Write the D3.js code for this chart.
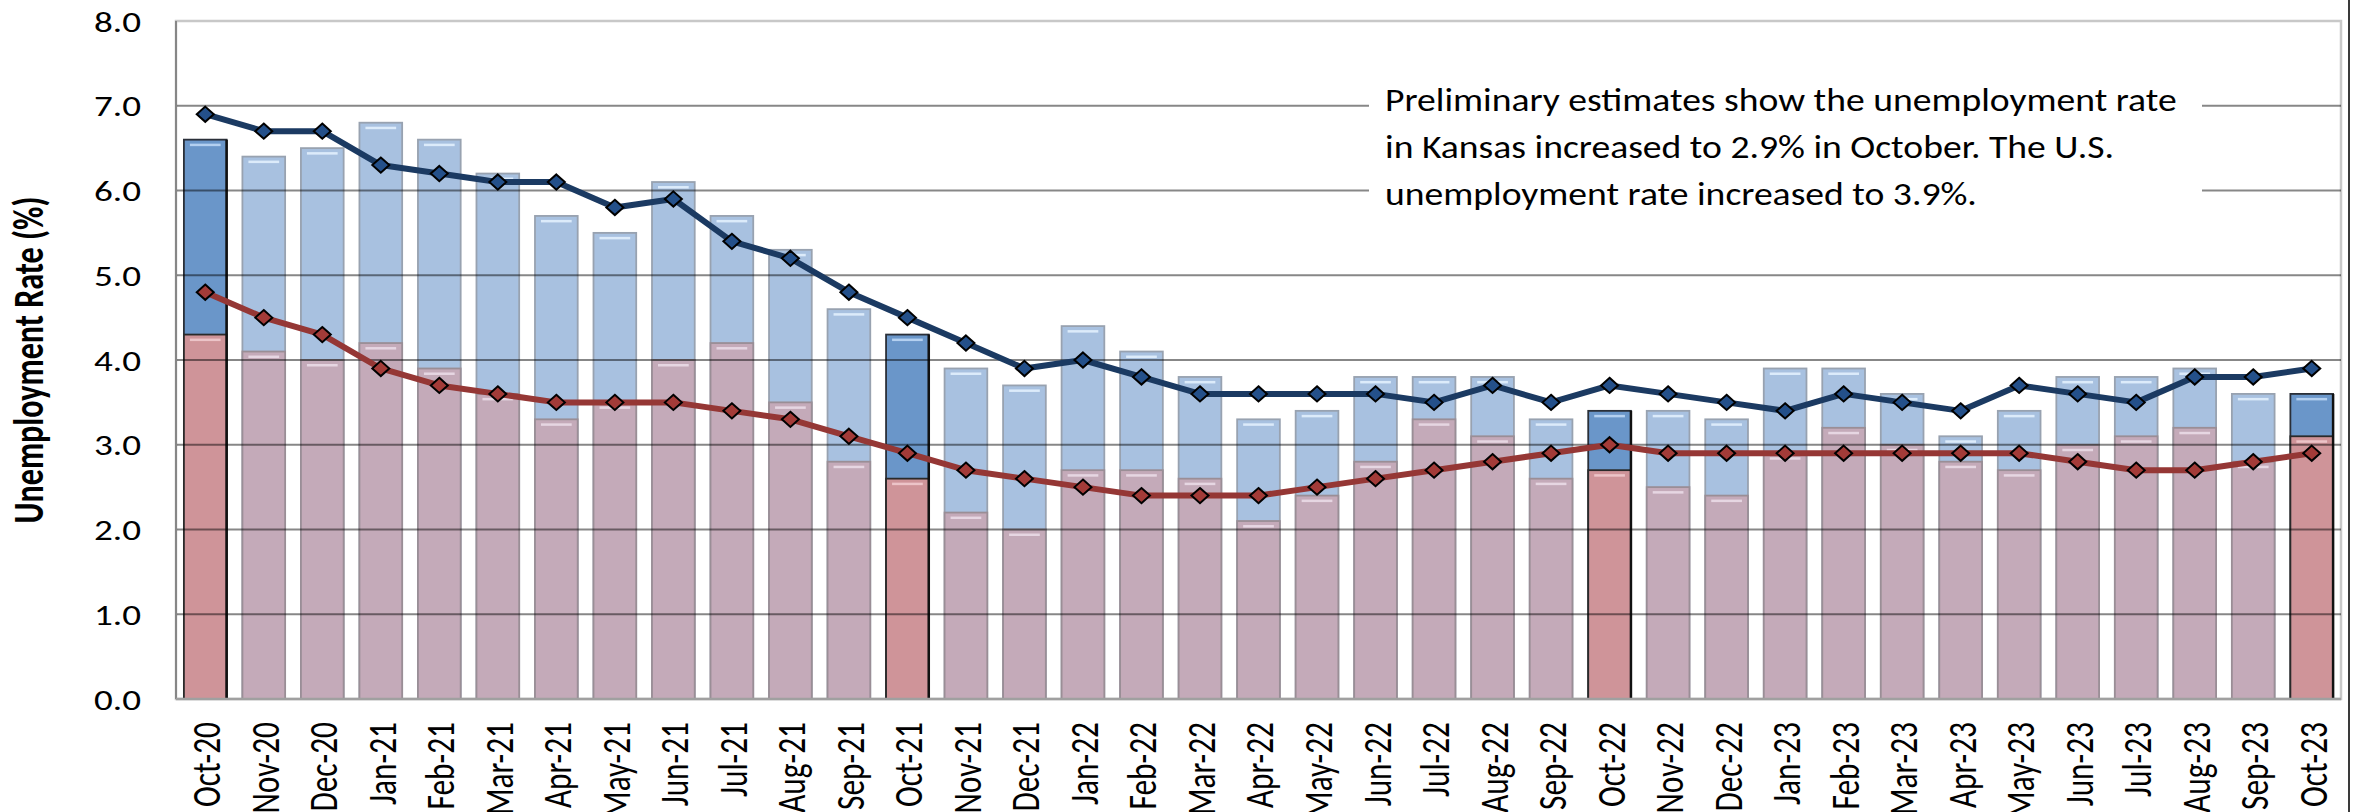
<!DOCTYPE html>
<html>
<head>
<meta charset="utf-8">
<script src="https://cdn.jsdelivr.net/npm/d3@7"></script>
<style>
  html, body { margin: 0; padding: 0; background: #fff; }
  svg { display: block; }
</style>
</head>
<body>
<script>
// ---------------- data ----------------
const months = ["Oct-20","Nov-20","Dec-20","Jan-21","Feb-21","Mar-21","Apr-21","May-21","Jun-21","Jul-21","Aug-21","Sep-21",
  "Oct-21","Nov-21","Dec-21","Jan-22","Feb-22","Mar-22","Apr-22","May-22","Jun-22","Jul-22","Aug-22","Sep-22",
  "Oct-22","Nov-22","Dec-22","Jan-23","Feb-23","Mar-23","Apr-23","May-23","Jun-23","Jul-23","Aug-23","Sep-23","Oct-23"];
// U.S. not seasonally adjusted (blue bars)
const usBars = [6.6,6.4,6.5,6.8,6.6,6.2,5.7,5.5,6.1,5.7,5.3,4.6,
  4.3,3.9,3.7,4.4,4.1,3.8,3.3,3.4,3.8,3.8,3.8,3.3,
  3.4,3.4,3.3,3.9,3.9,3.6,3.1,3.4,3.8,3.8,3.9,3.6,3.6];
// Kansas not seasonally adjusted (pink bars)
const ksBars = [4.3,4.1,4.0,4.2,3.9,3.6,3.3,3.5,4.0,4.2,3.5,2.8,
  2.6,2.2,2.0,2.7,2.7,2.6,2.1,2.4,2.8,3.3,3.1,2.6,
  2.7,2.5,2.4,2.9,3.2,3.0,2.8,2.7,3.0,3.1,3.2,2.8,3.1];
// U.S. seasonally adjusted (navy line)
const usLine = [6.9,6.7,6.7,6.3,6.2,6.1,6.1,5.8,5.9,5.4,5.2,4.8,
  4.5,4.2,3.9,4.0,3.8,3.6,3.6,3.6,3.6,3.5,3.7,3.5,
  3.7,3.6,3.5,3.4,3.6,3.5,3.4,3.7,3.6,3.5,3.8,3.8,3.9];
// Kansas seasonally adjusted (red line)
const ksLine = [4.8,4.5,4.3,3.9,3.7,3.6,3.5,3.5,3.5,3.4,3.3,3.1,
  2.9,2.7,2.6,2.5,2.4,2.4,2.4,2.5,2.6,2.7,2.8,2.9,
  3.0,2.9,2.9,2.9,2.9,2.9,2.9,2.9,2.8,2.7,2.7,2.8,2.9];
const yTicks = [0,1,2,3,4,5,6,7,8];
const yTitle = "Unemployment Rate (%)";
const noteLines = ["Preliminary estimates show the unemployment rate",
  "in Kansas increased to 2.9% in October. The U.S.",
  "unemployment rate increased to 3.9%."];

// ---------------- layout ----------------
const W = 2356, H = 812;
const plot = {left: 176, right: 2341, top: 21, bottom: 699};
const FONT = "Carlito, Calibri, Lato, 'Open Sans', sans-serif";

const svg = d3.select("body").append("svg").attr("width", W).attr("height", H)
  .style("font-family", FONT);

function measure(str, size, weight) {
  const t = svg.append("text").attr("font-size", size).attr("font-weight", weight || "normal").text(str);
  const w = t.node().getComputedTextLength();
  t.remove();
  return w;
}

const x = d3.scaleBand().domain(months).range([plot.left, plot.right])
  .paddingInner(0.27).paddingOuter(0.135);
const y = d3.scaleLinear().domain([0, 8]).range([plot.bottom, plot.top]);
const bw = x.bandwidth();
const cx = m => x(m) + bw / 2;
const isOct = m => m.startsWith("Oct");

// text fitting (reference is horizontally stretched)
const tickFs = 28;
const sx = 47 / measure("8.0", tickFs);
const xFs = 27 * 85 / measure("Oct-20", 27);
const titleFs = 29 * 327 / measure(yTitle, 29, "bold");
const noteFs = 32.5;
const noteSx = 792 / measure(noteLines[0], noteFs);

// plot border (light)
svg.append("rect").attr("x", plot.left).attr("y", plot.top)
  .attr("width", plot.right - plot.left).attr("height", plot.bottom - plot.top)
  .attr("fill", "none").attr("stroke", "#c8c8c8").attr("stroke-width", 2.5);

// ---------------- bars ----------------
const usG = svg.append("g");
usG.selectAll("rect.bar").data(months).join("rect").attr("class", "bar")
  .attr("x", m => x(m)).attr("width", bw)
  .attr("y", (m, i) => y(usBars[i])).attr("height", (m, i) => y(0) - y(usBars[i]))
  .attr("fill", m => isOct(m) ? "#6a96c9" : "#a8c1e0")
  .attr("stroke", m => isOct(m) ? "#2a2f38" : "#98a2b0")
  .attr("stroke-width", 1.8);
usG.selectAll("rect.hl").data(months).join("rect").attr("class", "hl")
  .attr("x", m => x(m) + 6).attr("width", bw - 12)
  .attr("y", (m, i) => y(usBars[i]) + 4).attr("height", 2.5)
  .attr("fill", m => isOct(m) ? "#b4d0f0" : "#dcebfa");

const ksG = svg.append("g");
ksG.selectAll("rect.bar").data(months).join("rect").attr("class", "bar")
  .attr("x", m => x(m)).attr("width", bw)
  .attr("y", (m, i) => y(ksBars[i])).attr("height", (m, i) => y(0) - y(ksBars[i]))
  .attr("fill", m => isOct(m) ? "#cf9499" : "#c4aab9")
  .attr("stroke", m => isOct(m) ? "#2a2a2a" : "#9a8e96")
  .attr("stroke-width", 1.8);
ksG.selectAll("rect.hl").data(months).join("rect").attr("class", "hl")
  .attr("x", m => x(m) + 6).attr("width", bw - 12)
  .attr("y", (m, i) => y(ksBars[i]) + 4).attr("height", 2.5)
  .attr("fill", m => isOct(m) ? "#ecc4c8" : "#e6d6e2");
// darker right-edge shadow on October bars
svg.append("g").selectAll("line").data(months.filter(isOct)).join("line")
  .attr("x1", m => x(m) + bw).attr("x2", m => x(m) + bw)
  .attr("y1", m => y(usBars[months.indexOf(m)])).attr("y2", y(0))
  .attr("stroke", "#111").attr("stroke-width", 2.5);

// ---------------- gridlines (visible through bars) ----------------
svg.append("g").selectAll("line").data(yTicks.filter(t => t > 0 && t < 8)).join("line")
  .attr("x1", plot.left).attr("x2", plot.right)
  .attr("y1", d => y(d)).attr("y2", d => y(d))
  .attr("stroke", "#000").attr("stroke-opacity", 0.47).attr("stroke-width", 2);

// annotation box (white, covers gridlines)
svg.append("rect").attr("x", 1369).attr("y", 40).attr("width", 833).attr("height", 200).attr("fill", "#fff");
const note = svg.append("g");
noteLines.forEach((s, i) => {
  note.append("text")
    .attr("transform", `translate(1385,${111 + i * 47}) scale(${noteSx},1)`)
    .attr("font-size", noteFs).attr("fill", "#000").text(s);
});

// axes lines
svg.append("line").attr("x1", plot.left).attr("x2", plot.left).attr("y1", plot.top).attr("y2", plot.bottom)
  .attr("stroke", "#868686").attr("stroke-width", 2);
svg.append("line").attr("x1", plot.left).attr("x2", plot.right).attr("y1", plot.bottom).attr("y2", plot.bottom)
  .attr("stroke", "#a0a0a0").attr("stroke-width", 2.5);

// ---------------- lines & markers ----------------
const diamond = {
  draw(ctx, size) {
    const w = 8.5, h = 7.6;
    ctx.moveTo(0, -h); ctx.lineTo(w, 0); ctx.lineTo(0, h); ctx.lineTo(-w, 0); ctx.closePath();
  }
};
function drawSeries(vals, lineColor, markerColor) {
  const g = svg.append("g");
  g.append("path").datum(months)
    .attr("d", d3.line().x(m => cx(m)).y((m, i) => y(vals[i])))
    .attr("fill", "none").attr("stroke", lineColor).attr("stroke-width", 6)
    .attr("stroke-linejoin", "round");
  g.selectAll("path.mk").data(months).join("path").attr("class", "mk")
    .attr("transform", (m, i) => `translate(${cx(m)},${y(vals[i])})`)
    .attr("d", d3.symbol().type(diamond)())
    .attr("fill", markerColor).attr("stroke", "#000").attr("stroke-width", 2);
}
drawSeries(ksLine, "#953735", "#a33b38");
drawSeries(usLine, "#1b3a62", "#24508a");

// ---------------- axes text ----------------
const yAxis = svg.append("g").attr("transform", `translate(${plot.left},0)`)
  .call(d3.axisLeft(y).tickValues(yTicks).tickFormat(d3.format(".1f")).tickSize(0).tickPadding(35));
yAxis.select(".domain").remove();
yAxis.selectAll("text")
  .attr("font-family", FONT).attr("font-size", tickFs).attr("fill", "#000")
  .attr("x", -35 / sx).attr("dy", "0.36em")
  .attr("transform", `scale(${sx},1)`);

const xAxis = svg.append("g").attr("transform", `translate(0,${plot.bottom})`)
  .call(d3.axisBottom(x).tickSize(0));
xAxis.select(".domain").remove();
xAxis.selectAll("text")
  .attr("font-family", FONT).attr("font-size", xFs).attr("fill", "#000")
  .attr("x", 0).attr("y", 0).attr("dy", "0.36em")
  .attr("transform", `translate(0,23) scale(${sx},1) rotate(-90)`)
  .style("text-anchor", "end");

svg.append("text")
  .attr("transform", `translate(28,${(plot.top + plot.bottom) / 2}) scale(${sx},1) rotate(-90)`)
  .attr("text-anchor", "middle").attr("dy", "0.36em")
  .attr("font-size", titleFs).attr("font-weight", "bold").attr("fill", "#000")
  .text(yTitle);

// outer chart border on the right
svg.append("line").attr("x1", 2349).attr("x2", 2349).attr("y1", 0).attr("y2", H)
  .attr("stroke", "#3a3a3a").attr("stroke-width", 2);
</script>
</body>
</html>
